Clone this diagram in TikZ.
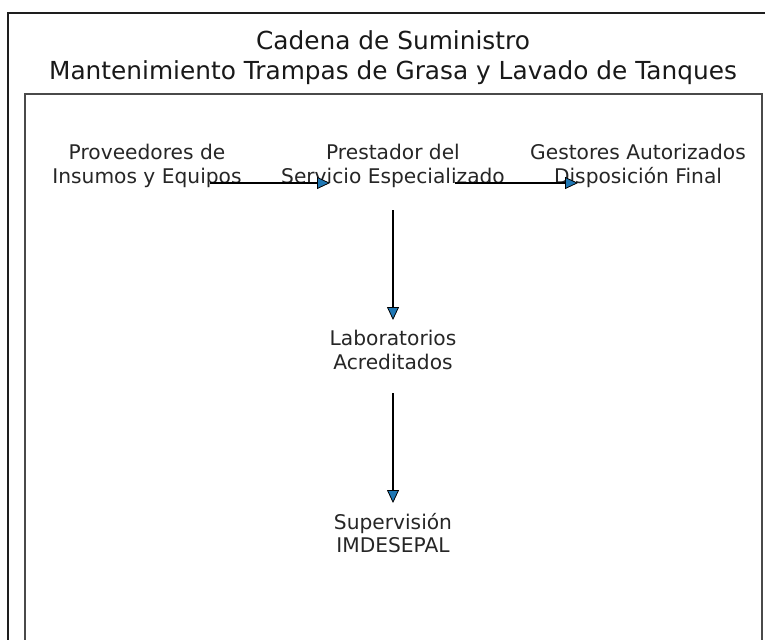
\documentclass[tikz,border=0pt]{standalone}
\usepackage{fontspec}
\setmainfont{DejaVu Sans}
\usetikzlibrary{arrows.meta}
\definecolor{cblue}{HTML}{1F77B4}
\definecolor{frameC}{HTML}{1E1E1E}
\definecolor{axC}{HTML}{4A4A4A}
\begin{document}
\begin{tikzpicture}[x=1bp,y=-1bp,
  lbl/.style={align=center,inner sep=0pt,font=\fontsize{20.2bp}{23.5bp}\selectfont,text=black!85},
  ttl/.style={align=center,inner sep=0pt,font=\fontsize{24.8bp}{30bp}\selectfont,text=black!90},
  flow/.style={line width=2.2bp,draw=black,-{Triangle[length=13bp,width=12bp,fill=cblue,color=black,line width=0.8bp]}}]
\useasboundingbox (0,0) rectangle (765,640);
\clip (0,0) rectangle (765,640);
\fill[white] (0,0) rectangle (765,640);
% outer frame
\draw[frameC,line width=2.5bp] (8,650) -- (8,13) -- (775,13);
% axes frame
\draw[axC,line width=1.5bp] (25,650) -- (25,94) -- (762,94) -- (762,650);
% title
\node[ttl] (title) at (393,58) {Cadena de Suministro\\Mantenimiento Trampas de Grasa y Lavado de Tanques};
% nodes
\node[lbl] (prov) at (147,166) {Proveedores de\\Insumos y Equipos};
\node[lbl] (prest) at (393,166) {Prestador del\\Servicio Especializado};
\node[lbl] (gest) at (638,166) {Gestores Autorizados\\Disposición Final};
\node[lbl] (lab) at (393,350) {Laboratorios\\Acreditados};
\node[lbl] (sup) at (393,533) {Supervisión\\IMDESEPAL};
% connector end points
\coordinate (a1s) at (210,183);
\coordinate (a1e) at (330,183);
\coordinate (a2s) at (455,183);
\coordinate (a2e) at (578,183);
\coordinate (a3s) at (393,210);
\coordinate (a3e) at (393,320);
\coordinate (a4s) at (393,393);
\coordinate (a4e) at (393,503);
\draw[flow] (a1s) -- (a1e);
\draw[flow] (a2s) -- (a2e);
\draw[flow] (a3s) -- (a3e);
\draw[flow] (a4s) -- (a4e);
\end{tikzpicture}
\end{document}
